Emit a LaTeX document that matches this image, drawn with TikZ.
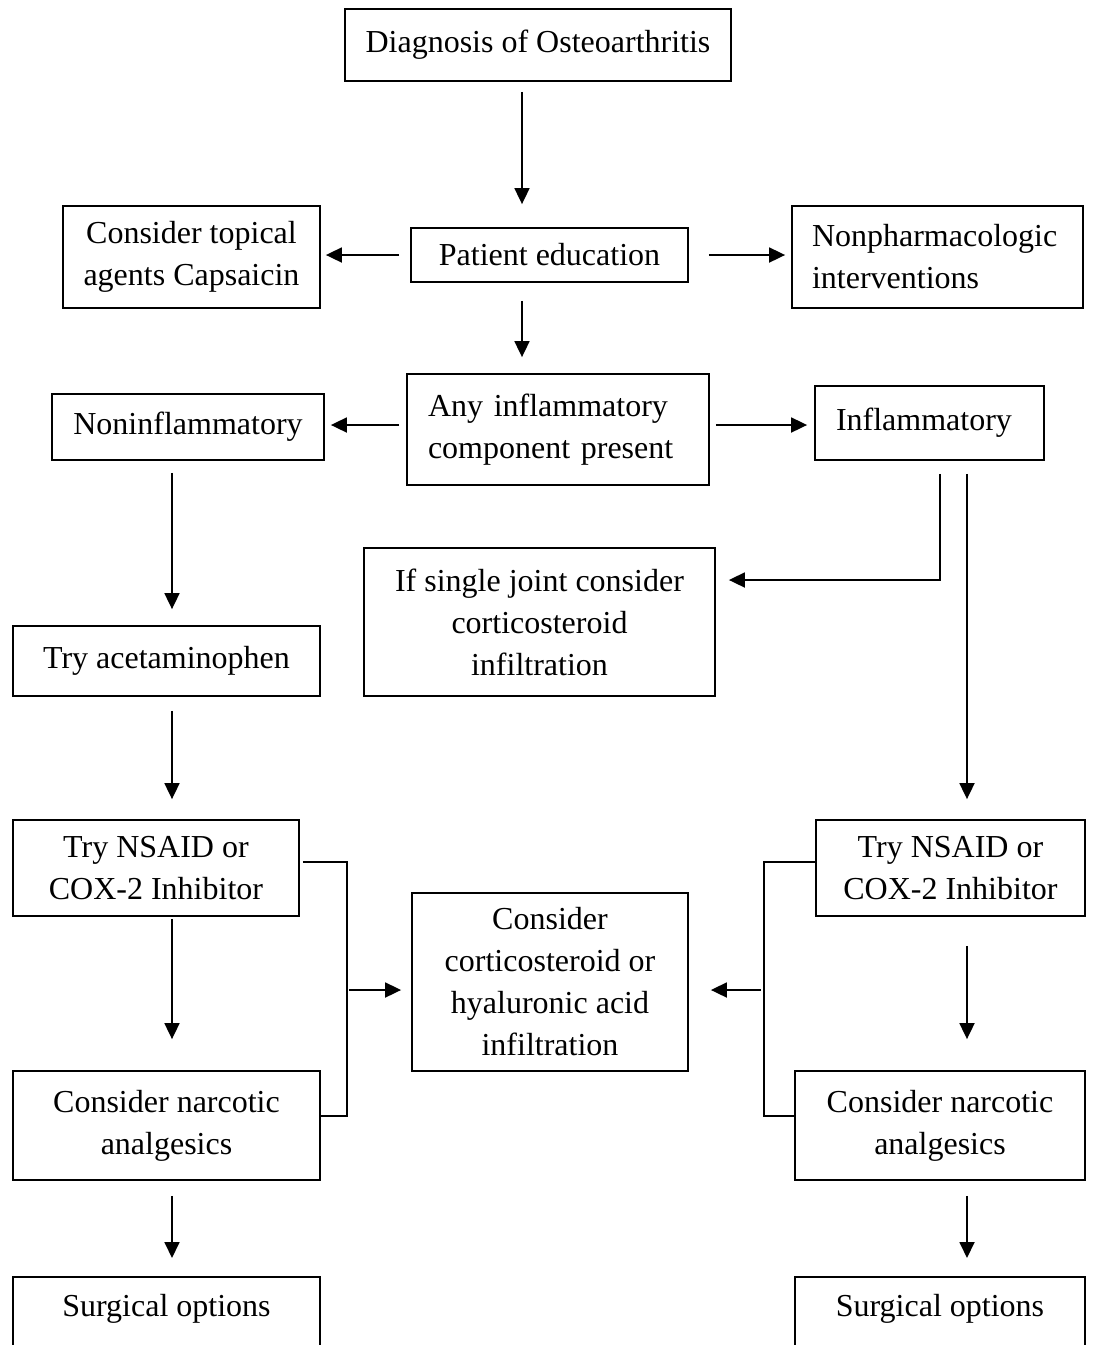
\documentclass[tikz,border=0pt]{standalone}
\usepackage{fontspec}
\setmainfont{Liberation Serif}
\usetikzlibrary{arrows.meta,calc}
\begin{document}
\begin{tikzpicture}[x=1pt,y=-1pt,
  box/.style={draw,line width=1.8pt,inner sep=0pt,align=center,
    font=\fontsize{32}{42}\selectfont},
  lbox/.style={box,align=left},
  conn/.style={line width=1.8pt},
  arr/.style={conn,-{Triangle[length=16pt,width=15pt]}}]
\useasboundingbox (0,0) rectangle (1105,1345);
% boxes
\node[box,minimum width=386,minimum height=72] (diag) at (538,45) {Diagnosis of Osteoarthritis};
\node[box,minimum width=257,minimum height=102] (topical) at (191.5,257) {Consider topical\\agents Capsaicin};
\node[box,minimum width=277,minimum height=54] (pe) at (549.5,255) {Patient education};
\node[lbox,text width=251,inner xsep=20pt,minimum height=102] (nonph) at (937.5,257) {Nonpharmacologic\\interventions};
\node[lbox,text width=260,inner xsep=21pt,minimum height=111] (anyinf) at (558,429.5) {Any inflammatory\\component present};
\node[box,minimum width=272,minimum height=66] (noninf) at (188,427) {Noninflammatory};
\node[lbox,text width=187,inner xsep=21pt,minimum height=74] (inf) at (929.5,423) {Inflammatory};
\node[box,minimum width=351,minimum height=148] (single) at (539.5,622) {If single joint consider\\corticosteroid\\infiltration};
\node[box,minimum width=307,minimum height=70] (acet) at (166.5,661) {Try acetaminophen};
\node[box,minimum width=286,minimum height=96] (nsaidL) at (156,868) {Try NSAID or\\COX-2 Inhibitor};
\node[box,minimum width=276,minimum height=178] (cort) at (550,982) {Consider\\corticosteroid or\\hyaluronic acid\\infiltration};
\node[box,minimum width=269,minimum height=96] (nsaidR) at (950.5,868) {Try NSAID or\\COX-2 Inhibitor};
\node[box,minimum width=307,minimum height=109] (narcL) at (166.5,1125.5) {Consider narcotic\\analgesics};
\node[box,minimum width=290,minimum height=109] (narcR) at (940,1125.5) {Consider narcotic\\analgesics};
\node[box,anchor=north,minimum width=307,inner ysep=18pt,text height=22pt,text depth=80pt] (surgL) at (166.5,1276) {Surgical options};
\node[box,anchor=north,minimum width=290,inner ysep=18pt,text height=22pt,text depth=80pt] (surgR) at (940,1276) {Surgical options};
% connectors
\draw[arr] ($(diag.south)+(-16,10)$) -- ($(pe.north)+(-27.5,-23)$);
\draw[arr] ($(pe.west)+(-11,0)$) -- ($(topical.east |- pe.west)+(5,0)$);
\draw[arr] ($(pe.east)+(20,0)$) -- ($(nonph.west |- pe.east)+(-6,0)$);
\draw[arr] ($(pe.south)+(-27.5,18)$) -- ($(anyinf.north)+(-36,-16)$);
\draw[arr] ($(anyinf.west)+(-7,-4.5)$) -- ($(noninf.east)+(6,-2)$);
\draw[arr] ($(anyinf.east)+(6,-4.5)$) -- ($(inf.west)+(-7,2)$);
\draw[arr] ($(noninf.south)+(-16,12)$) -- ($(acet.north)+(5.5,-16)$);
\draw[arr] ($(inf.south)+(10.5,13)$) |- ($(single.east)+(13,-42)$);
\draw[arr] ($(inf.south)+(37.5,13)$) -- ($(nsaidR.north)+(16.5,-20)$);
\draw[arr] ($(acet.south)+(5.5,14)$) -- ($(nsaidL.north)+(16,-20)$);
\draw[arr] ($(nsaidL.south)+(16,2)$) -- ($(narcL.north)+(5.5,-31)$);
\draw[arr] ($(nsaidR.south)+(16.5,29)$) -- ($(narcR.north)+(27,-31)$);
\draw[arr] ($(narcL.south)+(5.5,15)$) -- ($(surgL.north)+(5.5,-18)$);
\draw[arr] ($(narcR.south)+(27,15)$) -- ($(surgR.north)+(27,-18)$);
\draw[conn] ($(nsaidL.east)+(3,-6)$) -| ($(narcL.east)+(26,-9.5)$) -- ($(narcL.east)+(0,-9.5)$);
\draw[arr] ($(cort.west)+(-62,8)$) -- ($(cort.west)+(-10,8)$);
\draw[conn] ($(nsaidR.west)+(0,-6)$) -| ($(narcR.west)+(-30,-9.5)$) -- ($(narcR.west)+(0,-9.5)$);
\draw[arr] ($(cort.east)+(72,8)$) -- ($(cort.east)+(22,8)$);
\end{tikzpicture}
\end{document}
